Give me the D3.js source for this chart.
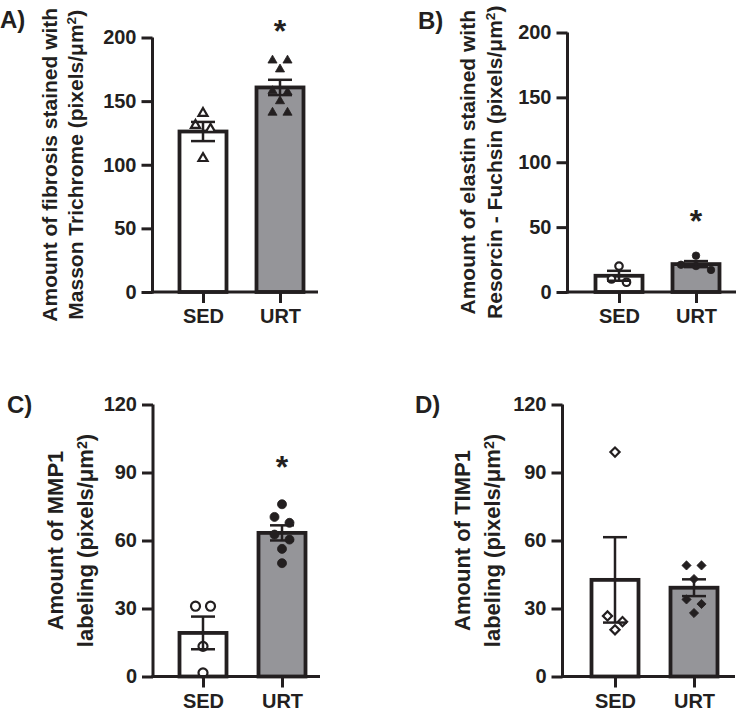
<!DOCTYPE html>
<html>
<head>
<meta charset="utf-8">
<script src="https://cdn.jsdelivr.net/npm/d3@7"></script>
<style>
  body { margin: 0; background: #fff; }
  svg { display: block; }
  text { font-family: "Liberation Sans", Arial, sans-serif; font-weight: bold; fill: #231f20; }
</style>
</head>
<body>
<svg id="chart"></svg>
<script>
let w = 750;
let h = 716;
let ink = "#231f20";
let grey = "#959599";

let groups = ["SED", "URT"];

// individual animals
let fibrosisSED = [140.5, 131, 128, 105];
let fibrosisURT = [182, 182, 175, 158, 157, 150, 141, 141];
let elastinSED = [20, 10, 7.5];
let elastinURT = [28, 21, 20, 17];
let mmp1SED = [31, 31, 13.3, 1.6];
let mmp1URT = [76, 70.4, 67.8, 62.6, 60.4, 56.3, 50];
let timp1SED = [99, 26.7, 24.2, 20.6];
let timp1URT = [49, 49, 43, 34, 32, 28];

let ticks200 = [0, 50, 100, 150, 200];
let ticks120 = [0, 30, 60, 90, 120];

// position of the significance star, in axis units (null = none)
let starA = 210;
let starB = 59;
let starC = 95;
let starD = null;

let svg = d3.select("#chart").attr("width", w).attr("height", h);

let panels = [
  { label: "A)", lx: 0, ly: 28, lines: ["Amount of fibrosis stained with", "Masson Trichrome (pixels/μm"],
    tx: [49, 75], tsize: 21, ax: 152.5, axEnd: 318, xc: [203, 280], yTop: 37.5, yBot: 292, max: 200,
    ticks: ticks200, data: [fibrosisSED, fibrosisURT], marker: "triangle", star: starA },
  { label: "B)", lx: 418, ly: 29, lines: ["Amount of elastin stained with", "Resorcin - Fuchsin (pixels/μm"],
    tx: [467, 494], tsize: 21, ax: 567.5, axEnd: 736, xc: [619, 696], yTop: 32.5, yBot: 292, max: 200,
    ticks: ticks200, data: [elastinSED, elastinURT], marker: "circleSmall", star: starB },
  { label: "C)", lx: 7, ly: 413, lines: ["Amount of MMP1", "labeling (pixels/μm"],
    tx: [55, 85], tsize: 22, ax: 153, axEnd: 320, xc: [203, 282], yTop: 404.5, yBot: 676.5, max: 120,
    ticks: ticks120, data: [mmp1SED, mmp1URT], marker: "circle", star: starC },
  { label: "D)", lx: 415, ly: 413, lines: ["Amount of TIMP1", "labeling (pixels/μm"],
    tx: [462, 492], tsize: 22, ax: 562.5, axEnd: 735, xc: [615, 694], yTop: 404.5, yBot: 676.5, max: 120,
    ticks: ticks120, data: [timp1SED, timp1URT], marker: "diamond", star: starD }
];

let symbolFor = (m) => {
  if (m === "triangle") return d3.symbol().type(d3.symbolTriangle).size(36)();
  if (m === "circleSmall") return d3.symbol().type(d3.symbolCircle).size(44)();
  if (m === "circle") return d3.symbol().type(d3.symbolCircle).size(64)();
  return d3.symbol().type(d3.symbolSquare).size(42)();
};

// spread points that sit at nearly the same height into centred rows
let spread = (vals, yScale, step) => {
  let sorted = vals.map((v) => ({ v: v, py: yScale(v) })).sort((a, b) => a.py - b.py);
  let rows = [];
  sorted.forEach((p) => {
    let row = rows[rows.length - 1];
    if (row && p.py - row[0].py < 8) row.push(p);
    else rows.push([p]);
  });
  let out = [];
  rows.forEach((row) => {
    row.forEach((p, i) => out.push({ v: p.v, py: p.py, dx: (i - (row.length - 1) / 2) * step }));
  });
  return out;
};

let drawPanel = (p) => {
  let g = svg.append("g");
  let yScale = d3.scaleLinear().domain([0, p.max]).range([p.yBot, p.yTop]);
  let xScale = d3.scalePoint().domain(groups).range(p.xc);
  let bw = 47;

  // panel letter
  g.append("text")
   .attr("x", p.lx)
   .attr("y", p.ly)
   .style("font-size", "24px")
   .text(p.label);

  // y title, two rotated lines, superscript 2 on the unit
  let cy = (p.yTop + p.yBot) / 2;
  p.lines.forEach((line, i) => {
    let t = g.append("text")
      .attr("transform", `translate(${p.tx[i]}, ${cy}) rotate(-90)`)
      .attr("text-anchor", "middle")
      .attr("dy", "0.36em")
      .style("font-size", p.tsize + "px");
    t.append("tspan").text(line);
    if (i === 1) {
      t.append("tspan").attr("dy", "-0.45em").style("font-size", "0.65em").text("2");
      t.append("tspan").attr("dy", "0.3em").text(")");
    }
  });

  // bars
  let stats = p.data.map((vals, i) => {
    let mean = d3.mean(vals);
    let sem = d3.deviation(vals) / Math.sqrt(vals.length);
    return { key: groups[i], mean: mean, sem: sem, vals: vals };
  });

  g.selectAll("rect.bar")
   .data(stats)
   .enter()
   .append("rect")
   .attr("class", "bar")
   .attr("x", (d) => xScale(d.key) - bw / 2)
   .attr("y", (d) => yScale(d.mean))
   .attr("width", bw)
   .attr("height", (d) => yScale(0) - yScale(d.mean))
   .attr("fill", (d, i) => i === 0 ? "#fff" : grey)
   .attr("stroke", ink)
   .attr("stroke-width", 3.8);

  // individual points
  let sym = symbolFor(p.marker);
  stats.forEach((s, i) => {
    let pts = spread(s.vals, yScale, 15);
    g.selectAll(null)
     .data(pts)
     .enter()
     .append("path")
     .attr("d", sym)
     .attr("transform", (d) => `translate(${xScale(s.key) + d.dx}, ${d.py})` + (p.marker === "diamond" ? " rotate(45)" : ""))
     .attr("fill", i === 0 ? "#fff" : ink)
     .attr("stroke", ink)
     .attr("stroke-width", i === 0 ? 2.2 : 0.8);
  });

  // error bars (mean +/- SEM)
  stats.forEach((s) => {
    let cx = xScale(s.key);
    let top = yScale(s.mean + s.sem);
    let bot = yScale(s.mean - s.sem);
    let eg = g.append("g").attr("stroke", ink).attr("stroke-width", 2.5);
    eg.append("line").attr("x1", cx).attr("x2", cx).attr("y1", top).attr("y2", bot);
    eg.append("line").attr("x1", cx - 12).attr("x2", cx + 12).attr("y1", top).attr("y2", top);
    eg.append("line").attr("x1", cx - 12).attr("x2", cx + 12).attr("y1", bot).attr("y2", bot);
  });

  // axes
  let yAxis = d3.axisLeft(yScale).tickValues(p.ticks).tickSize(11).tickSizeOuter(0).tickPadding(5);
  let ya = g.append("g").attr("transform", `translate(${p.ax}, 0)`).call(yAxis);
  ya.select(".domain").attr("stroke", ink).attr("stroke-width", 3).attr("d", `M0,${p.yBot + 1.5}V${p.yTop}`);
  ya.selectAll(".tick line").attr("stroke", ink).attr("stroke-width", 3);
  ya.selectAll(".tick text").style("font-size", "20px").attr("fill", ink).attr("font-family", null);

  let xAxis = d3.axisBottom(xScale).tickSize(11).tickSizeOuter(0).tickPadding(6);
  let xa = g.append("g").attr("transform", `translate(0, ${p.yBot})`).call(xAxis);
  xa.select(".domain").remove();
  xa.selectAll(".tick line").attr("stroke", ink).attr("stroke-width", 3);
  xa.selectAll(".tick text").style("font-size", "20px").attr("fill", ink).attr("font-family", null);
  g.append("line")
   .attr("x1", p.ax - 1.5).attr("x2", p.axEnd)
   .attr("y1", p.yBot).attr("y2", p.yBot)
   .attr("stroke", ink).attr("stroke-width", 3);

  // significance star
  if (p.star !== null) {
    g.append("text")
     .attr("x", xScale("URT"))
     .attr("y", yScale(p.star) + 17)
     .attr("text-anchor", "middle")
     .style("font-size", "32px")
     .text("*");
  }
};

panels.forEach(drawPanel);
</script>
</body>
</html>
